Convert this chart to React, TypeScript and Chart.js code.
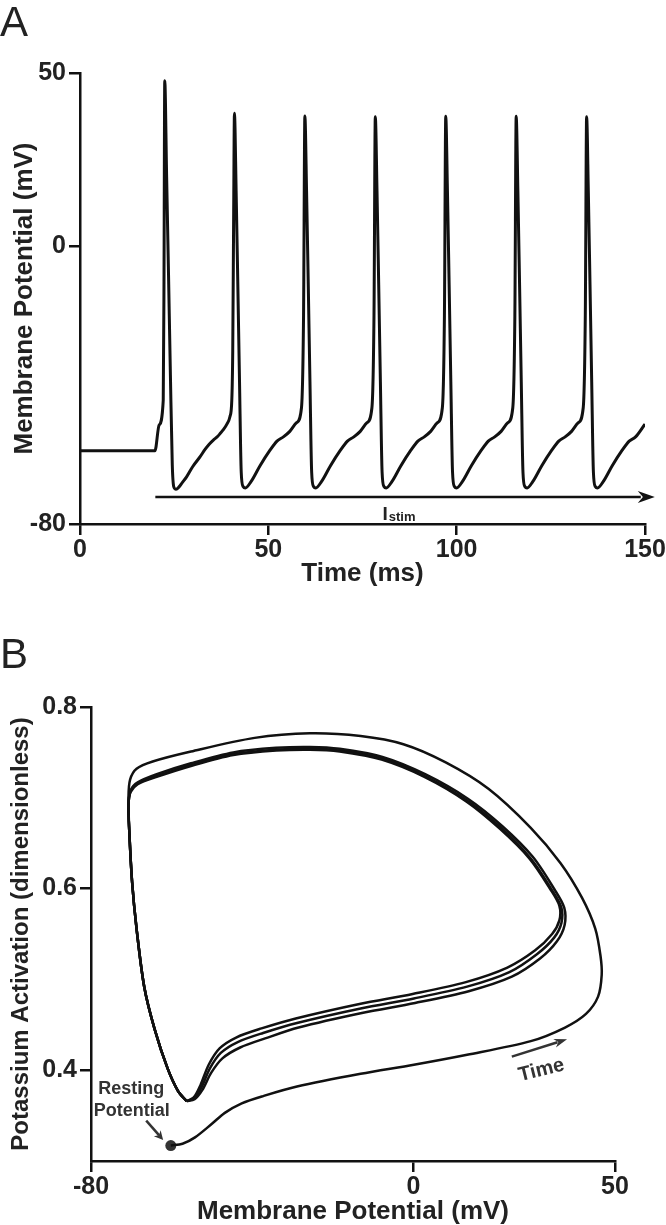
import React, { useEffect, useRef } from "react";
import { Chart, registerables } from "chart.js";

Chart.register(...registerables);

const FONT = '"Liberation Sans", Arial, Helvetica, sans-serif';
const INK = "#111111";
const TEXT = "#222222";

// ---------- Panel A: membrane potential vs time ----------
const timeA = [
  0, 19.9, 21.0, 22.1, 22.3, 22.5,
  23.0, 23.5, 24.0, 24.5, 24.9, 25.5, 26.3, 27.2, 28.3, 29.9, 31.9, 33.2, 34.3, 35.4, 36.4, 37.3, 38.0, 39.0, 39.8, 40.3, 40.55, 40.8, 41.0,
  41.45, 41.9, 42.35, 42.8, 43.3, 43.9, 45.4, 47.8, 50.4, 52.3, 54.0, 55.7, 57.5, 58.8, 59.35, 59.7,
  60.15, 60.6, 61.05, 61.5, 62.0, 62.6, 64.1, 66.5, 69.1, 71.0, 72.7, 74.4, 76.2, 77.5, 78.05, 78.4,
  78.85, 79.3, 79.75, 80.2, 80.7, 81.3, 82.8, 85.2, 87.8, 89.7, 91.4, 93.1, 94.9, 96.2, 96.75, 97.1,
  97.55, 98.0, 98.45, 98.9, 99.4, 100.0, 101.5, 103.9, 106.5, 108.4, 110.1, 111.8, 113.6, 114.9, 115.45, 115.8,
  116.25, 116.7, 117.15, 117.6, 118.1, 118.7, 120.2, 122.6, 125.2, 127.1, 128.8, 130.5, 132.3, 133.6, 134.15, 134.5,
  134.95, 135.4, 135.85, 136.3, 136.8, 137.4, 138.9, 141.3, 143.9, 145.8, 147.5, 150.0,
];
const vmA = [
  -58.9, -58.9, -51.5, -44.3, -10, 47.8,
  20, -8, -37, -63, -69.3, -70.0, -69.3, -68.0, -66.4, -63.5, -60.6, -58.5, -57.0, -55.8, -54.9, -53.8, -52.9, -51.2, -49.1, -44.3, -30, 10, 38.4,
  16, -11, -39, -65, -69.2, -69.6, -67.8, -63.2, -58.8, -56.1, -54.9, -53.3, -50.8, -46.5, -20, 37.6,
  16, -11, -39, -65, -69.2, -69.6, -67.8, -63.2, -58.8, -56.1, -54.9, -53.3, -50.8, -46.5, -20, 37.4,
  16, -11, -39, -65, -69.2, -69.6, -67.8, -63.2, -58.8, -56.1, -54.9, -53.3, -50.8, -46.5, -20, 37.5,
  16, -11, -39, -65, -69.2, -69.6, -67.8, -63.2, -58.8, -56.1, -54.9, -53.3, -50.8, -46.5, -20, 37.5,
  16, -11, -39, -65, -69.2, -69.6, -67.8, -63.2, -58.8, -56.1, -54.9, -53.3, -50.8, -46.5, -20, 37.4,
  16, -11, -39, -65, -69.2, -69.6, -67.8, -63.2, -58.8, -56.1, -54.9, -51.2,
];
const xTicksA = [0, 50, 100, 150];
const yTicksA = [-80, 0, 50];
const stimStartA = 20;
const stimEndA = 152.6;
const stimLevelA = -72.2;
const stimLabelTA = 84.7;
const stimLabelVA = -78.9;

// ---------- Panel B: potassium activation vs membrane potential ----------
const outerV = [-60.2, -57.3, -54.2, -50.0, -46.8, -42.6, -37.3, -28.9, -13.1, 0.1, 13.3, 29.1, 37.6, 42.8, 45.8, 46.7, 46.4, 45.1, 41.8, 36.5, 29.1, 18.6, 8.0, -2.5, -13.1, -25.7, -39.4, -55.2, -64.7, -68.7, -70.3, -70.7, -70.5, -69.8, -68.7, -66.8, -64.2, -61.0, -58.4, -56.3];
const outerN = [0.317, 0.319, 0.326, 0.341, 0.353, 0.3635, 0.3715, 0.382, 0.396, 0.406, 0.417, 0.432, 0.447, 0.462, 0.481, 0.505, 0.526, 0.556, 0.590, 0.628, 0.667, 0.710, 0.739, 0.759, 0.768, 0.771, 0.766, 0.751, 0.740, 0.732, 0.720, 0.701, 0.663, 0.607, 0.556, 0.492, 0.445, 0.402, 0.377, 0.366];

const inner1V = [-56.3, -54.3, -52.4, -50.2, -47.4, -43.0, -36.8, -28.5, -12.8, 0.4, 13.7, 24.4, 31.4, 35.6, 37.5, 37.4, 35.0, 29.6, 22.0, 13.5, 2.9, -7.7, -18.3, -25.7, -34.1, -44.7, -55.2, -63.7, -68.4, -70.2, -70.7, -70.5, -69.8, -68.7, -66.8, -64.2, -61.0, -58.4, -56.3];
const inner1N = [0.366, 0.368, 0.378, 0.397, 0.413, 0.425, 0.435, 0.447, 0.463, 0.474, 0.487, 0.503, 0.523, 0.542, 0.560, 0.579, 0.599, 0.635, 0.669, 0.699, 0.726, 0.745, 0.754, 0.756, 0.755, 0.750, 0.738, 0.726, 0.717, 0.708, 0.692, 0.663, 0.607, 0.556, 0.492, 0.445, 0.402, 0.377, 0.366];

const inner2V = [-56.3, -54.4, -52.6, -50.5, -47.8, -43.6, -37.3, -28.9, -13.1, 0.1, 13.3, 23.8, 30.7, 34.9, 36.7, 36.7, 34.4, 29.1, 21.7, 13.3, 2.8, -7.8, -18.3, -25.7, -34.1, -44.7, -55.2, -63.7, -68.4, -70.2, -70.7, -70.5, -69.8, -68.7, -66.8, -64.2, -61.0, -58.4, -56.3];
const inner2N = [0.366, 0.369, 0.381, 0.402, 0.419, 0.431, 0.441, 0.452, 0.468, 0.479, 0.492, 0.508, 0.528, 0.546, 0.562, 0.579, 0.598, 0.633, 0.667, 0.697, 0.724, 0.743, 0.752, 0.754, 0.753, 0.748, 0.736, 0.724, 0.716, 0.707, 0.692, 0.663, 0.607, 0.556, 0.492, 0.445, 0.402, 0.377, 0.366];

const inner3V = [-56.3, -54.5, -52.8, -50.8, -48.1, -44.0, -37.7, -29.2, -13.4, -0.2, 13.0, 23.3, 30.2, 34.4, 36.2, 36.2, 34.0, 28.8, 21.4, 13.1, 2.7, -7.9, -18.3, -25.7, -34.1, -44.7, -55.2, -63.7, -68.4, -70.2, -70.7, -70.5, -69.8, -68.7, -66.8, -64.2, -61.0, -58.4, -56.3];
const inner3N = [0.366, 0.370, 0.384, 0.406, 0.424, 0.436, 0.446, 0.457, 0.473, 0.484, 0.497, 0.513, 0.532, 0.550, 0.565, 0.581, 0.599, 0.633, 0.666, 0.696, 0.723, 0.742, 0.751, 0.753, 0.752, 0.747, 0.735, 0.723, 0.715, 0.706, 0.692, 0.663, 0.607, 0.556, 0.492, 0.445, 0.402, 0.377, 0.366];

const restV = -60.2;
const restN = 0.317;
const xTicksB = [-80, 0, 50];
const yTicksB = [0.4, 0.6, 0.8];
const restArrowB = [-66.3, 0.3445, -62.1, 0.3232];
const restLabel1B = [-70.0, 0.379];
const restLabel2B = [-69.9, 0.355];
const timeArrowB = [24.4, 0.415, 38.1, 0.434];
const timeLabelB = [31.75, 0.4];

function toPoints(xs: number[], ys: number[]) {
  return xs.map((x, i) => ({ x, y: ys[i] }));
}

function drawArrow(ctx: CanvasRenderingContext2D, x1: number, y1: number, x2: number, y2: number, color: string, width: number, head: number, half: number) {
  const a = Math.atan2(y2 - y1, x2 - x1);
  const c = Math.cos(a), s = Math.sin(a);
  const bx = x2 - head * c, by = y2 - head * s;
  ctx.strokeStyle = color;
  ctx.lineWidth = width;
  ctx.beginPath();
  ctx.moveTo(x1, y1);
  ctx.lineTo(bx + 3 * c, by + 3 * s);
  ctx.stroke();
  ctx.fillStyle = color;
  ctx.beginPath();
  ctx.moveTo(x2, y2);
  ctx.lineTo(bx + half * s, by - half * c);
  ctx.lineTo(bx + head * 0.3 * c, by + head * 0.3 * s);
  ctx.lineTo(bx - half * s, by + half * c);
  ctx.closePath();
  ctx.fill();
}

function makeAxis(min: number, max: number, ticks: number[], fmt: (v: number) => string, title: string, titleSize: number, titlePad: any, fit: number, horizontal: boolean) {
  return {
    type: "linear" as const,
    min,
    max,
    afterBuildTicks: (s: any) => {
      s.ticks = ticks.map((v) => ({ value: v }));
    },
    afterFit: (s: any) => {
      if (horizontal) s.height = fit;
      else s.width = fit;
    },
    ticks: {
      font: { family: FONT, size: 25, weight: "bold" as const, lineHeight: 1.2 },
      color: TEXT,
      padding: horizontal ? 0 : 3,
      maxRotation: 0,
      minRotation: 0,
      autoSkip: false,
      callback: (v: any) => fmt(Number(v)),
    },
    grid: { drawOnChartArea: false, drawTicks: true, tickLength: 11, color: INK, lineWidth: 2.5 },
    border: { display: true, color: INK, width: 2.5 },
    title: {
      display: true,
      text: title,
      color: TEXT,
      font: { family: FONT, size: titleSize, weight: "bold" as const, lineHeight: 1 },
      padding: titlePad,
    },
  };
}

function PanelA() {
  const ref = useRef<HTMLCanvasElement>(null);
  useEffect(() => {
    const annot = {
      id: "annotA",
      afterDraw(chart: any) {
        const { ctx } = chart;
        const xs = chart.scales.x, ys = chart.scales.y;
        ctx.save();
        const yy = ys.getPixelForValue(stimLevelA);
        drawArrow(ctx, xs.getPixelForValue(stimStartA), yy, xs.getPixelForValue(stimEndA), yy, INK, 2.5, 17, 6);
        ctx.fillStyle = TEXT;
        ctx.textAlign = "left";
        ctx.textBaseline = "alphabetic";
        ctx.font = `bold 19px ${FONT}`;
        const wI = ctx.measureText("I").width;
        ctx.font = `bold 13px ${FONT}`;
        const wS = ctx.measureText("stim").width;
        const cx = xs.getPixelForValue(stimLabelTA);
        const by = ys.getPixelForValue(stimLabelVA);
        const left = cx - (wI + wS + 1) / 2;
        ctx.font = `bold 19px ${FONT}`;
        ctx.fillText("I", left, by);
        ctx.font = `bold 13px ${FONT}`;
        ctx.fillText("stim", left + wI + 1, by + 1);
        ctx.font = `42px ${FONT}`;
        ctx.fillText("A", 0, 36);
        ctx.restore();
      },
    };
    const chart = new Chart(ref.current as HTMLCanvasElement, {
      type: "line",
      data: {
        datasets: [
          {
            data: toPoints(timeA, vmA),
            borderColor: INK,
            borderWidth: 3,
            pointRadius: 0,
            cubicInterpolationMode: "monotone",
            fill: false,
          },
        ],
      },
      options: {
        animation: false,
        responsive: false,
        devicePixelRatio: 1,
        events: [],
        layout: { padding: { left: 0, top: 73, right: 21, bottom: 0 } },
        plugins: { legend: { display: false }, tooltip: { enabled: false } },
        scales: {
          x: makeAxis(0, 150, xTicksA, (v) => String(v), "Time (ms)", 26, { top: 0, bottom: 33 }, 96, true) as any,
          y: makeAxis(-80, 50, yTicksA, (v) => String(v), "Membrane Potential (mV)", 26, { top: 12, bottom: 0 }, 80, false) as any,
        },
      },
      plugins: [annot],
    });
    return () => chart.destroy();
  }, []);
  return <canvas ref={ref} width={666} height={620} style={{ position: "absolute", left: 0, top: 0, width: 666, height: 620 }} />;
}

function PanelB() {
  const ref = useRef<HTMLCanvasElement>(null);
  useEffect(() => {
    const annot = {
      id: "annotB",
      afterDraw(chart: any) {
        const { ctx } = chart;
        const xs = chart.scales.x, ys = chart.scales.y;
        const px = (v: number) => xs.getPixelForValue(v);
        const py = (v: number) => ys.getPixelForValue(v);
        ctx.save();
        drawArrow(ctx, px(restArrowB[0]), py(restArrowB[1]), px(restArrowB[2]), py(restArrowB[3]), "#333333", 2.5, 9, 4.5);
        drawArrow(ctx, px(timeArrowB[0]), py(timeArrowB[1]), px(timeArrowB[2]), py(timeArrowB[3]), "#333333", 2.5, 13, 4.5);
        ctx.fillStyle = "#333333";
        ctx.textAlign = "center";
        ctx.textBaseline = "middle";
        ctx.font = `bold 18px ${FONT}`;
        ctx.fillText("Resting", px(restLabel1B[0]), py(restLabel1B[1]));
        ctx.fillText("Potential", px(restLabel2B[0]), py(restLabel2B[1]));
        ctx.save();
        ctx.translate(px(timeLabelB[0]), py(timeLabelB[1]));
        ctx.rotate((-14 * Math.PI) / 180);
        ctx.font = `bold 20px ${FONT}`;
        ctx.fillText("Time", 0, 0);
        ctx.restore();
        ctx.fillStyle = TEXT;
        ctx.textAlign = "left";
        ctx.textBaseline = "alphabetic";
        ctx.font = `42px ${FONT}`;
        ctx.fillText("B", 0, 48);
        ctx.restore();
      },
    };
    const lineStyle = { borderColor: INK, borderWidth: 2.5, pointRadius: 0, tension: 0.3, fill: false };
    const chart = new Chart(ref.current as HTMLCanvasElement, {
      type: "line",
      data: {
        datasets: [
          { data: toPoints(outerV, outerN), ...lineStyle } as any,
          { data: toPoints(inner1V, inner1N), ...lineStyle } as any,
          { data: toPoints(inner2V, inner2N), ...lineStyle } as any,
          { data: toPoints(inner3V, inner3N), ...lineStyle } as any,
          {
            data: [{ x: restV, y: restN }],
            showLine: false,
            pointRadius: 5.5,
            pointBackgroundColor: "#333333",
            pointBorderColor: "#333333",
            pointBorderWidth: 0,
          } as any,
        ],
      },
      options: {
        animation: false,
        responsive: false,
        devicePixelRatio: 1,
        events: [],
        layout: { padding: { left: 0, top: 87, right: 51, bottom: 0 } },
        plugins: { legend: { display: false }, tooltip: { enabled: false } },
        scales: {
          x: makeAxis(-80, 50, xTicksB, (v) => String(v), "Membrane Potential (mV)", 26, { top: 0, bottom: 0 }, 64, true) as any,
          y: makeAxis(0.3, 0.8, yTicksB, (v) => v.toFixed(1), "Potassium Activation (dimensionless)", 24, { top: 9, bottom: 0 }, 91, false) as any,
        },
      },
      plugins: [annot],
    });
    return () => chart.destroy();
  }, []);
  return <canvas ref={ref} width={666} height={605} style={{ position: "absolute", left: 0, top: 620, width: 666, height: 605 }} />;
}

export default function App() {
  return (
    <div style={{ position: "absolute", left: 0, top: 0, width: 666, height: 1225, background: "#ffffff" }}>
      <PanelA />
      <PanelB />
    </div>
  );
}
